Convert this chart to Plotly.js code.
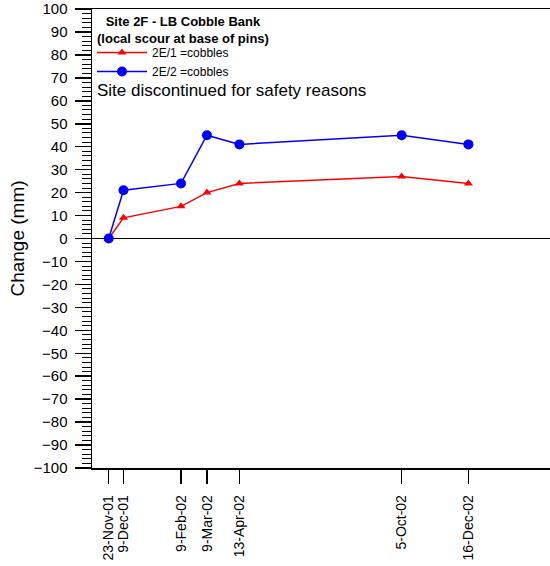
<!DOCTYPE html>
<html>
<head>
<meta charset="utf-8">
<script src="https://cdn.plot.ly/plotly-3.0.1.min.js"></script>
<style>html,body{margin:0;padding:0;background:#fff;}#chart{width:550px;height:566px;}</style>
</head>
<body>
<div id="chart"></div>
<script>
const dates = ['2001-11-23','2001-12-09','2002-02-09','2002-03-09','2002-04-13','2002-10-05','2002-12-16'];
const tickLabels = ['23-Nov-01','9-Dec-01','9-Feb-02','9-Mar-02','13-Apr-02','5-Oct-02','16-Dec-02'];
const pin2E1 = [0, 9, 14, 20, 24, 27, 24];
const pin2E2 = [0, 21, 24, 45, 41, 45, 41];
const seriesNames = ['2E/1 =cobbles', '2E/2 =cobbles'];

const traces = [
  {x: dates, y: pin2E1, name: seriesNames[0], type: 'scatter', mode: 'lines+markers',
   line: {color: '#ff0000', width: 1.5}, marker: {symbol: 'triangle-up', size: 8, color: '#ff0000'}},
  {x: dates, y: pin2E2, name: seriesNames[1], type: 'scatter', mode: 'lines+markers',
   line: {color: '#0000ff', width: 1.5}, marker: {symbol: 'circle', size: 10, color: '#0000ff'}}
];

const layout = {
  width: 550, height: 566,
  margin: {l: 92, r: 0, t: 9, b: 98},
  paper_bgcolor: '#fff', plot_bgcolor: '#fff',
  font: {family: 'Liberation Sans, Arial, sans-serif', color: '#000'},
  showlegend: true,
  legend: {x: 0.0, y: 0.937, xanchor: 'left', yanchor: 'top', bgcolor: 'rgba(0,0,0,0)',
           font: {size: 12, color: '#000'}, tracegroupgap: 0, itemwidth: 50},
  xaxis: {
    type: 'date', range: ['2001-11-05', '2003-03-14'],
    tickmode: 'array', tickvals: dates, ticktext: tickLabels, tickangle: -90,
    ticks: 'outside', ticklen: 14, tickwidth: 1.5, tickcolor: '#000',
    tickfont: {size: 14}, ticklabelstandoff: 6,
    showline: true, linecolor: '#000', linewidth: 1.5, mirror: true,
    showgrid: false, zeroline: false
  },
  yaxis: {
    range: [-100, 100], dtick: 10, tick0: 0,
    ticks: 'outside', ticklen: 16, tickwidth: 1.5, tickcolor: '#000',
    tickfont: {size: 15}, ticklabelstandoff: 4,
    minor: {dtick: 2, ticks: 'outside', ticklen: 9, tickwidth: 1, tickcolor: '#000'},
    showline: true, linecolor: '#000', linewidth: 1.5,
    showgrid: false, zeroline: true, zerolinecolor: '#000', zerolinewidth: 1.5,
    title: {text: 'Change (mm)', font: {size: 19}, standoff: 4}
  },
  annotations: [
    {xref: 'paper', yref: 'paper', x: 0.199, y: 0.954, xanchor: 'center', yanchor: 'middle',
     text: '<b>Site 2F - LB Cobble Bank<br>(local scour at base of pins)</b>', align: 'center',
     showarrow: false, font: {size: 13}},
    {xref: 'paper', yref: 'paper', x: 0.0066, y: 0.8235, xanchor: 'left', yanchor: 'middle',
     text: 'Site discontinued for safety reasons', showarrow: false, font: {size: 17}}
  ]
};

Plotly.newPlot('chart', traces, layout, {displayModeBar: false, staticPlot: true});
</script>
</body>
</html>
